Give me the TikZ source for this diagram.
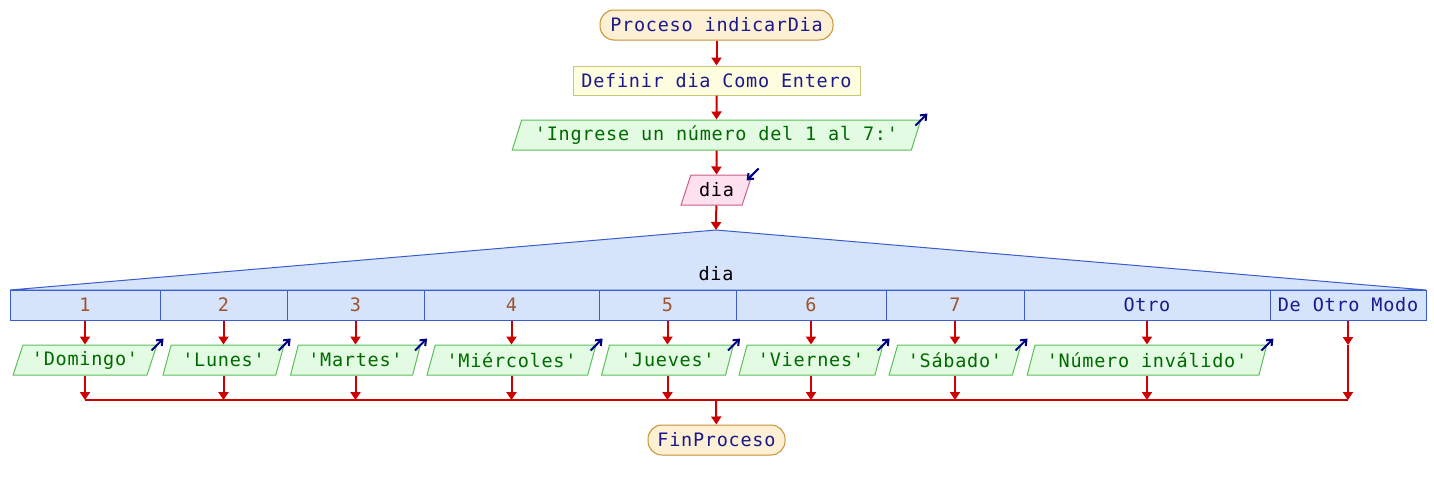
\documentclass[tikz,border=0pt]{standalone}
\usepackage{fontspec}
\usetikzlibrary{shapes.geometric, arrows.meta}
\newfontfamily\psefont{DejaVu Sans Mono}[LetterSpace=4]
\definecolor{flowred}{HTML}{CC0000}
\definecolor{termfill}{HTML}{FDF0D5}
\definecolor{termline}{HTML}{C8902E}
\definecolor{deffill}{HTML}{FFFDE0}
\definecolor{defline}{HTML}{C8C878}
\definecolor{wrfill}{HTML}{E2FBE2}
\definecolor{wrline}{HTML}{5CBF5C}
\definecolor{wrtext}{HTML}{006A00}
\definecolor{rdfill}{HTML}{FFE0EE}
\definecolor{rdline}{HTML}{C8608A}
\definecolor{segfill}{HTML}{D5E3FB}
\definecolor{segline}{HTML}{3A5CCC}
\definecolor{numtext}{HTML}{A0522D}
\definecolor{navytext}{HTML}{1A1A8C}
\definecolor{iconblue}{HTML}{000080}
\tikzstyle{base} = [font=\psefont\fontsize{18.5}{20}\selectfont, inner sep=0, text centered, line width=1pt]
\tikzstyle{terminal} = [base, rectangle, rounded corners=14pt, minimum height=30pt, draw=termline, fill=termfill, text=navytext]
\tikzstyle{define} = [base, rectangle, minimum height=29pt, draw=defline, fill=deffill, text=navytext]
\tikzstyle{writebox} = [base, trapezium, trapezium left angle=65, trapezium right angle=115, trapezium stretches=true, minimum height=30pt, draw=wrline, fill=wrfill, text=wrtext]
\tikzstyle{readbox} = [base, trapezium, trapezium left angle=65, trapezium right angle=115, trapezium stretches=true, minimum height=30pt, draw=rdline, fill=rdfill, text=black]
\tikzstyle{cell} = [base, rectangle, minimum height=30pt, draw=segline, fill=segfill, text=numtext]
\tikzstyle{flow} = [line width=2pt, flowred, -{Triangle[length=8pt, width=10pt]}]
\tikzstyle{flowline} = [line width=2pt, flowred]
\tikzstyle{icon} = [line width=2pt, iconblue, -{Straight Barb[length=5pt, width=8pt]}]

\begin{document}
\begin{tikzpicture}[x=1pt, y=-1pt]
	\useasboundingbox (0,0) rectangle (1434,490);
	% main chain
	\node[terminal, minimum width=233pt] (start) at (716.5, 25) {Proceso indicarDia};
	\node[define, minimum width=287pt] (def) at (716.5, 80.5) {Definir dia Como Entero};
	\node[writebox, minimum width=409pt] (ask) at (716.5, 135) {'Ingrese un número del 1 al 7:'};
	\node[readbox, minimum width=71pt] (read) at (716.5, 190) {dia};
	\coordinate (segtop) at (716, 230);
	\draw[flow] (start) -- (def);
	\draw[flow] (def) -- (ask);
	\draw[flow] (ask) -- (read);
	\draw[flow] (read) -- (segtop);
	\draw[icon] ([shift={(-6,6)}]ask.top right corner) -- ++(12,-12);
	\draw[icon] ([shift={(6,-6)}]read.top right corner) -- ++(-12,12);
	% segun block
	\draw[segline, fill=segfill, line width=1pt] (segtop) -- (1426,290) -- (10,290) -- cycle;
	\node[base, text=black] (seglabel) at (716, 274) {dia};
	\node[cell, minimum width=150pt] (c1) at (85, 305) {1};
	\node[cell, minimum width=127pt] (c2) at (223.5, 305) {2};
	\node[cell, minimum width=137pt] (c3) at (355.5, 305) {3};
	\node[cell, minimum width=175pt] (c4) at (511.5, 305) {4};
	\node[cell, minimum width=137pt] (c5) at (667.5, 305) {5};
	\node[cell, minimum width=150pt] (c6) at (811, 305) {6};
	\node[cell, minimum width=138pt] (c7) at (955, 305) {7};
	\node[cell, minimum width=246pt, text=navytext] (c8) at (1147, 305) {Otro};
	\node[cell, minimum width=156pt, text=navytext] (c9) at (1348, 305) {De Otro Modo};
	% outputs
	\node[writebox, minimum width=144pt] (o1) at (85, 360) {'Domingo'};
	\node[writebox, minimum width=121pt] (o2) at (223.5, 360) {'Lunes'};
	\node[writebox, minimum width=130pt] (o3) at (355.5, 360) {'Martes'};
	\node[writebox, minimum width=169pt] (o4) at (511.5, 360) {'Miércoles'};
	\node[writebox, minimum width=132pt] (o5) at (667.5, 360) {'Jueves'};
	\node[writebox, minimum width=144pt] (o6) at (811, 360) {'Viernes'};
	\node[writebox, minimum width=132pt] (o7) at (955, 360) {'Sábado'};
	\node[writebox, minimum width=240pt] (o8) at (1147, 360) {'Número inválido'};
	\draw[flow] (c1) -- (o1);
	\draw[flow] (c2) -- (o2);
	\draw[flow] (c3) -- (o3);
	\draw[flow] (c4) -- (o4);
	\draw[flow] (c5) -- (o5);
	\draw[flow] (c6) -- (o6);
	\draw[flow] (c7) -- (o7);
	\draw[flow] (c8) -- (o8);
	\draw[icon] ([shift={(-6,6)}]o1.top right corner) -- ++(12,-12);
	\draw[icon] ([shift={(-6,6)}]o2.top right corner) -- ++(12,-12);
	\draw[icon] ([shift={(-6,6)}]o3.top right corner) -- ++(12,-12);
	\draw[icon] ([shift={(-6,6)}]o4.top right corner) -- ++(12,-12);
	\draw[icon] ([shift={(-6,6)}]o5.top right corner) -- ++(12,-12);
	\draw[icon] ([shift={(-6,6)}]o6.top right corner) -- ++(12,-12);
	\draw[icon] ([shift={(-6,6)}]o7.top right corner) -- ++(12,-12);
	\draw[icon] ([shift={(-6,6)}]o8.top right corner) -- ++(12,-12);
	% join
	\coordinate (j1) at (85, 400);
	\coordinate (j2) at (223.5, 400);
	\coordinate (j3) at (355.5, 400);
	\coordinate (j4) at (511.5, 400);
	\coordinate (j5) at (667.5, 400);
	\coordinate (j6) at (811, 400);
	\coordinate (j7) at (955, 400);
	\coordinate (j8) at (1147, 400);
	\coordinate (j9) at (1348, 400);
	\coordinate (dm) at (1348, 345);
	\coordinate (jm) at (716, 400);
	\draw[flow] (o1) -- (j1);
	\draw[flow] (o2) -- (j2);
	\draw[flow] (o3) -- (j3);
	\draw[flow] (o4) -- (j4);
	\draw[flow] (o5) -- (j5);
	\draw[flow] (o6) -- (j6);
	\draw[flow] (o7) -- (j7);
	\draw[flow] (o8) -- (j8);
	\draw[flow] (c9) -- (dm);
	\draw[flow] (dm) -- (j9);
	\draw[flowline] (j1) -- (j9);
	\node[terminal, minimum width=137pt] (fin) at (716.5, 440) {FinProceso};
	\draw[flow] (jm) -- (fin);
\end{tikzpicture}
\end{document}
